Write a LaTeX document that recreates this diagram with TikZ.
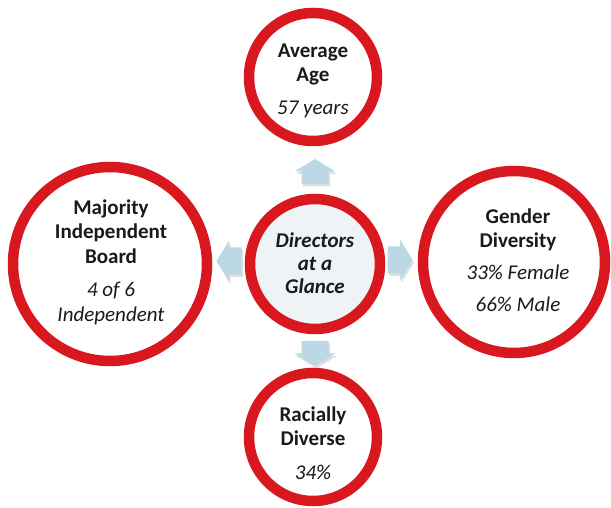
\documentclass[tikz,border=0pt]{standalone}
\usepackage{fontspec}
\setmainfont{Carlito}
\usetikzlibrary{shadows}
\definecolor{ringred}{HTML}{D9171E}
\definecolor{centerfill}{HTML}{EEF3F6}
\definecolor{arrowblue}{HTML}{BCD8E4}
\definecolor{txt}{HTML}{1A1A1A}
\tikzset{
  ring/.style={circle, draw=ringred, line width=10.5bp, fill=white, inner sep=0pt,
    drop shadow={shadow xshift=1bp, shadow yshift=-3bp, opacity=0.22}},
  label/.style={align=center, text=txt, inner sep=0pt,
    font=\fontsize{21bp}{24.5bp}\selectfont},
  barrow/.style={fill=arrowblue,
    drop shadow={shadow xshift=1.5bp, shadow yshift=-2.5bp, opacity=0.25}}
}
\newcommand\blockarrow[2]{%
  \begin{scope}[shift={#1}, rotate=#2]
    \path[barrow] (-12.5bp,-13.5bp) -- (0bp,-13.5bp) -- (0bp,-20.5bp) -- (12.5bp,0bp)
      -- (0bp,20.5bp) -- (0bp,13.5bp) -- (-12.5bp,13.5bp) -- cycle;
  \end{scope}}
\begin{document}
\begin{tikzpicture}[x=1bp,y=1bp]
\useasboundingbox (0,0) rectangle (611,508);
% circles
\node[ring, minimum size=128bp] (top) at (313,431) {};
\node[ring, minimum size=130bp, fill=centerfill] (mid) at (315,244) {};
\node[ring, minimum size=194bp] (left) at (110,244) {};
\node[ring, minimum size=182bp] (right) at (514,246) {};
\node[ring, minimum size=128bp] (bot) at (313,71) {};
% arrows
\blockarrow{(315,336.5)}{90}
\blockarrow{(315,154.5)}{-90}
\blockarrow{(229,247)}{180}
\blockarrow{(400,248)}{0}
% texts
\node[label] (topT) at (313,427) {\textbf{Average}\\\textbf{Age}\\[8.5bp]\textit{57 years}};
\node[label] (midT) at (315,245) {\textbf{\textit{Directors}}\\[-1.5bp]\textbf{\textit{at a}}\\[-1.5bp]\textbf{\textit{Glance}}};
\node[label] (leftT) at (111,246) {\textbf{Majority}\\\textbf{Independent}\\\textbf{Board}\\[9bp]\textit{4 of 6}\\\textit{Independent}};
\node[label] (rightT) at (518,248) {\textbf{Gender}\\\textbf{Diversity}\\[7.5bp]\textit{33\% Female}\\[7.5bp]\textit{66\% Male}};
\node[label] (botT) at (313,65) {\textbf{Racially}\\\textbf{Diverse}\\[9bp]\textit{34\%}};
\end{tikzpicture}
\end{document}
